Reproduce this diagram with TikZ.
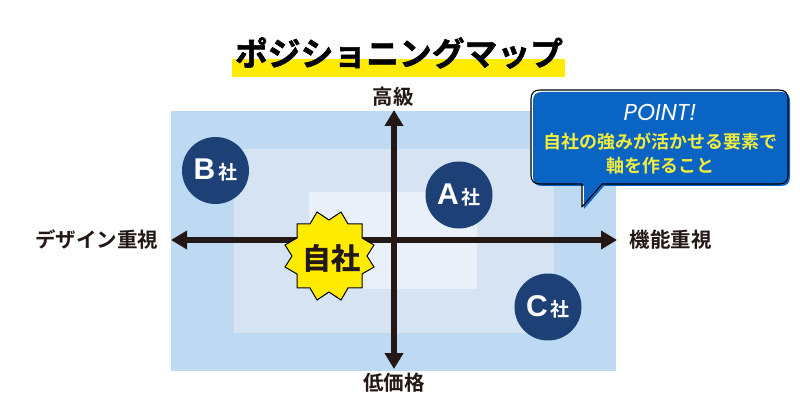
\documentclass[tikz,border=0pt]{standalone}
\usepackage{fontspec}
\newfontfamily\cjk{Noto Sans CJK JP}[BoldFont={Noto Sans CJK JP Bold}]
\newfontfamily\cjkheavy{Noto Sans CJK JP Bold}[FakeBold=1.6]
\newfontfamily\latinbold{Liberation Sans Bold}
\newfontfamily\pointfont{Poppins}
\usetikzlibrary{arrows.meta}
\definecolor{pale}{HTML}{BEDAF2}
\definecolor{midc}{HTML}{D5E3F2}
\definecolor{innerc}{HTML}{E9F0F9}
\definecolor{navy}{HTML}{1D4177}
\definecolor{calloutblue}{HTML}{0A64C4}
\definecolor{ylw}{HTML}{FFEB00}
\definecolor{notey}{HTML}{F2EC3C}
\definecolor{ink}{HTML}{231815}
\newcommand{\calloutshape}{(540,90) -- (779,90) .. controls (785,90) and (788,93) .. (788,99) -- (788,175) .. controls (788,181) and (785,184) .. (779,184) -- (602,184) -- (582,207) -- (582,184) -- (540,184) .. controls (534,184) and (531,181) .. (531,175) -- (531,99) .. controls (531,93) and (534,90) .. (540,90) -- cycle}
\newcommand{\shalabel}[1]{\raisebox{-1.5pt}{{\latinbold\fontsize{30}{32}\selectfont #1}\hspace{3pt}{\cjk\bfseries\fontsize{19}{21}\selectfont 社}}}
\tikzset{
  axisline/.style={draw=ink,line width=5.5pt,{Triangle[width=18pt,length=16pt]}-{Triangle[width=18pt,length=16pt]}},
  axlabel/.style={font=\cjk\bfseries\fontsize{20.5}{23}\selectfont,text=ink,inner sep=0pt},
  company/.style={circle,fill=navy,minimum size=67pt,inner sep=0pt,text=white},
  cnote/.style={font=\cjk\bfseries\fontsize{18}{20}\selectfont,text=notey,inner sep=0pt}
}
\begin{document}
\begin{tikzpicture}[x=1pt,y=-1pt]
\useasboundingbox (0,0) rectangle (800,419);
\fill[white] (0,0) rectangle (800,419);
\fill[ylw] (232,59) rectangle (565,77);
\node[font=\cjkheavy\fontsize{32.8}{36}\selectfont,text=black,inner sep=0pt] (title) at (399,53) {ポジショニングマップ};
\fill[pale] (171,111) rectangle (616,371);
\fill[midc] (234,149) rectangle (554,333);
\fill[innerc] (309,192) rectangle (477,289);
\coordinate (wend) at (171,240); \coordinate (eend) at (617,240);
\coordinate (nend) at (394,110); \coordinate (send) at (394,369);
\draw[axisline] (wend) -- (eend);
\draw[axisline] (nend) -- (send);
\node[axlabel] (top) at (393,97) {高級};
\node[axlabel] (bottom) at (394,383) {低価格};
\node[axlabel] (left) at (96.5,240) {デザイン重視};
\node[axlabel] (right) at (670.5,240) {機能重視};
\node[company] (b) at (215.5,170.5) {\shalabel{B}};
\node[company] (a) at (459,195) {\shalabel{A}};
\node[company] (c) at (548,307) {\shalabel{C}};
\draw[draw=black,line width=1pt,fill=ylw,line join=miter]
 (317,212) -- (329,220) -- (341,212) -- (348,224) -- (362,224) -- (362,238) -- (374,245) -- (367,256) -- (374,267) -- (362,274) -- (362,288) -- (348,288) -- (341,300) -- (329,292) -- (317,300) -- (310,288) -- (297,288) -- (297,274) -- (285,267) -- (292,256) -- (285,245) -- (297,238) -- (297,224) -- (310,224) -- cycle;
\node[font=\cjkheavy\fontsize{29}{31}\selectfont,text=ink,inner sep=0pt] (self) at (331,258) {自社};
\fill[white] \calloutshape;
\begin{scope}[shift={(2,2)}]
\fill[calloutblue] \calloutshape;
\end{scope}
\draw[draw=black,line width=1.1pt,line join=round] \calloutshape;
\node[font=\pointfont\itshape\fontsize{23}{26}\selectfont,text=white,inner sep=0pt] (point) at (660,112) {POINT!};
\node[cnote] (n1) at (660.5,142) {自社の強みが活かせる要素で};
\node[cnote] (n2) at (660,166) {軸を作ること};
\end{tikzpicture}
\end{document}
